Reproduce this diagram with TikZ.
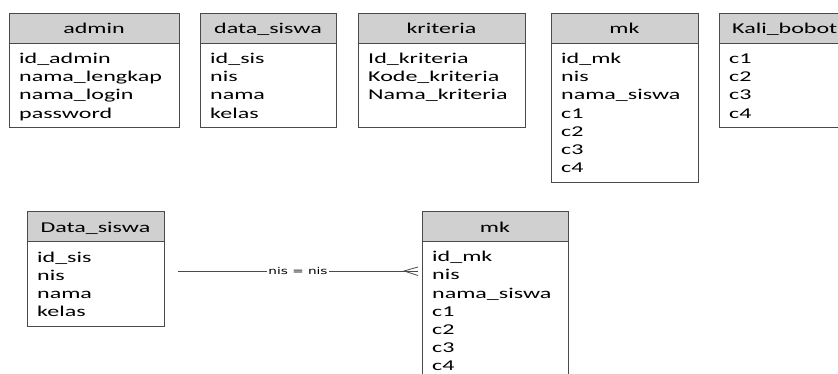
\documentclass[tikz,border=0pt]{standalone}
\usepackage{fontspec}
\setmainfont[FakeStretch=1.6]{Carlito}
\newfontfamily\lblfont[FakeStretch=1.45]{DejaVu Sans}
\definecolor{hdrgray}{HTML}{D0D0D0}
\definecolor{edgegray}{HTML}{4A4A4A}
\newcommand\erfields[4]{% name, x, first baseline, list
  \foreach \t [count=\i from 0] in {#4}
    \node[fld, anchor=base west] (#1-\i) at (#2, #3+\i*18.2) {\t};}
\begin{document}
\begin{tikzpicture}[x=1pt,y=-1pt,
  hdr/.style={draw=edgegray, line width=1.1pt, fill=hdrgray, anchor=north west, inner sep=0pt},
  bodybox/.style={draw=edgegray, line width=1.1pt, fill=white, anchor=north west, inner sep=0pt},
  hdrtxt/.style={font=\fontsize{15}{18}\selectfont, inner sep=0pt, anchor=base},
  fld/.style={font=\fontsize{15}{18}\selectfont, inner sep=0pt},
  conn/.style={draw=edgegray, line width=0.8pt},
  lbl/.style={font=\lblfont\fontsize{9.4}{11}\selectfont, fill=white, inner sep=1pt}]
\useasboundingbox (0,0) rectangle (838,374);
\clip (0,0) rectangle (838,374);
% admin
\node[bodybox, minimum width=170pt, minimum height=114pt] (admin) at (9,13) {};
\node[hdr, minimum width=170pt, minimum height=30pt] (adminH) at (9,13) {};
\node[hdrtxt] (adminT) at (94,33.5) {admin};
\erfields{adm}{19}{63.5}{id\_admin,nama\_lengkap,nama\_login,password}
% data_siswa
\node[bodybox, minimum width=136pt, minimum height=114pt] (ds) at (200,13) {};
\node[hdr, minimum width=136pt, minimum height=30pt] (dsH) at (200,13) {};
\node[hdrtxt] (dsT) at (268,33.5) {data\_siswa};
\erfields{dsf}{210}{63.5}{id\_sis,nis,nama,kelas}
% kriteria
\node[bodybox, minimum width=167pt, minimum height=114pt] (kr) at (358,13) {};
\node[hdr, minimum width=167pt, minimum height=30pt] (krH) at (358,13) {};
\node[hdrtxt] (krT) at (441.5,33.5) {kriteria};
\erfields{krf}{368}{63.5}{Id\_kriteria,Kode\_kriteria,Nama\_kriteria}
% mk
\node[bodybox, minimum width=147pt, minimum height=169pt] (mk) at (551,13) {};
\node[hdr, minimum width=147pt, minimum height=30pt] (mkH) at (551,13) {};
\node[hdrtxt] (mkT) at (624.5,33.5) {mk};
\erfields{mkf}{561}{63.5}{id\_mk,nis,nama\_siswa,c1,c2,c3,c4}
% Kali_bobot
\node[bodybox, minimum width=150pt, minimum height=114pt] (kb) at (719,13) {};
\node[hdr, minimum width=150pt, minimum height=30pt] (kbH) at (719,13) {};
\node[hdrtxt, anchor=base west] (kbT) at (732,33.5) {Kali\_bobot};
\erfields{kbf}{729}{63.5}{c1,c2,c3,c4}
% lower Data_siswa
\node[bodybox, minimum width=137pt, minimum height=115pt] (ds2) at (27,211) {};
\node[hdr, minimum width=137pt, minimum height=30pt] (ds2H) at (27,211) {};
\node[hdrtxt] (ds2T) at (95.5,232.7) {Data\_siswa};
\erfields{ds2f}{37}{262.3}{id\_sis,nis,nama,kelas}
% lower mk
\node[bodybox, minimum width=146pt, minimum height=190pt] (mk2) at (422,211) {};
\node[hdr, minimum width=146pt, minimum height=30pt] (mk2H) at (422,211) {};
\node[hdrtxt] (mk2T) at (495,232.7) {mk};
\erfields{mk2f}{432}{261.7}{id\_mk,nis,nama\_siswa,c1,c2,c3,c4}
% relationship
\coordinate (r1) at (178,271);
\coordinate (r2) at (418,271);
\coordinate (rf) at (404,271);
\draw[conn] (r1) -- (r2) node[lbl, midway] (rel) {nis = nis};
\draw[conn] (r2 |- 0,267) -- (rf) -- (r2 |- 0,275.5);
\end{tikzpicture}
\end{document}
